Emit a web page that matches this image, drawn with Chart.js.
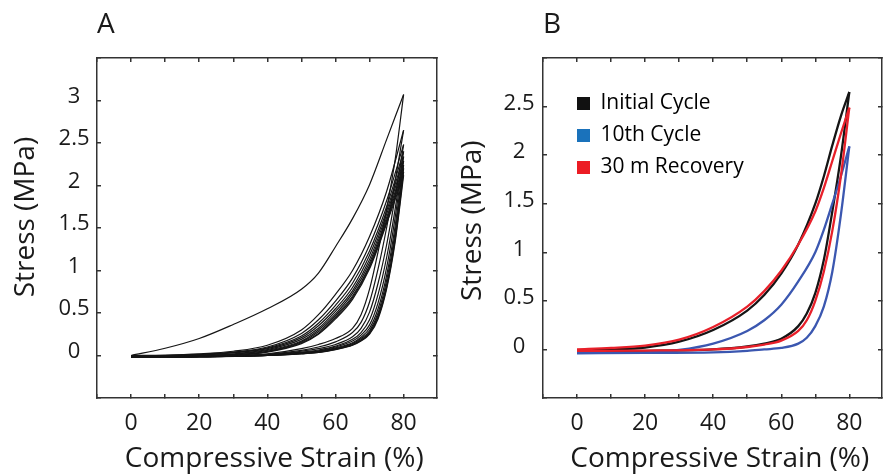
<!DOCTYPE html>
<html lang="en">
<head>
<meta charset="UTF-8">
<title>Compressive stress-strain cycles</title>
<style>
  body { margin: 0; background: #fff; }
  #wrap { position: relative; width: 883px; height: 476px; }
  canvas { position: absolute; top: 0; }
  #chartA { left: 0; }
  #chartB { left: 440px; }
</style>
</head>
<body>
<div id="wrap">
  <canvas id="chartA" width="440" height="476"></canvas>
  <canvas id="chartB" width="443" height="476"></canvas>
</div>
<script src="https://cdn.jsdelivr.net/npm/chart.js"></script>
<script>
// ---- data ----
const xTickLabels = [0, 20, 40, 60, 80];
const yTickLabelsA = [0, 0.5, 1, 1.5, 2, 2.5, 3];
const yTickLabelsB = [0, 0.5, 1, 1.5, 2, 2.5];

// panel A: 10 cycles, loading and unloading branches
const strainLoadA = [0, 10, 20, 30, 40, 50, 55, 60, 65, 70, 75, 80];
const loadA = [
  [0, 0.085, 0.2, 0.365, 0.55, 0.78, 0.97, 1.28, 1.61, 2.01, 2.54, 3.07],
  [0, 0.005, 0.02, 0.05, 0.12, 0.30, 0.48, 0.72, 1.00, 1.40, 1.93, 2.65],
  [0, 0, 0.015, 0.04, 0.10, 0.26, 0.42, 0.64, 0.91, 1.30, 1.82, 2.48],
  [-0.005, 0, 0.01, 0.035, 0.09, 0.23, 0.38, 0.59, 0.85, 1.23, 1.75, 2.40],
  [-0.005, -0.005, 0.005, 0.03, 0.08, 0.21, 0.35, 0.55, 0.80, 1.18, 1.70, 2.34],
  [-0.01, -0.005, 0, 0.02, 0.07, 0.19, 0.32, 0.52, 0.76, 1.13, 1.66, 2.29],
  [-0.01, -0.01, 0, 0.015, 0.06, 0.17, 0.30, 0.49, 0.73, 1.09, 1.62, 2.24],
  [-0.01, -0.01, -0.005, 0.01, 0.05, 0.16, 0.28, 0.47, 0.70, 1.06, 1.59, 2.20],
  [-0.015, -0.01, -0.005, 0.005, 0.045, 0.15, 0.26, 0.45, 0.68, 1.04, 1.57, 2.16],
  [-0.015, -0.015, -0.01, 0, 0.04, 0.14, 0.25, 0.43, 0.66, 1.02, 1.55, 2.12]
];
const strainUnloadA = [0, 20, 40, 50, 55, 60, 65, 67.5, 70, 72.5, 75, 77.5, 80];
const unloadA = [
  [-0.02, -0.01, 0.02, 0.08, 0.13, 0.20, 0.32, 0.48, 0.78, 1.22, 1.72, 2.30, 3.07],
  [-0.02, -0.012, 0.015, 0.06, 0.10, 0.16, 0.27, 0.39, 0.63, 1.02, 1.50, 2.05, 2.65],
  [-0.02, -0.013, 0.01, 0.05, 0.08, 0.13, 0.22, 0.32, 0.51, 0.85, 1.30, 1.86, 2.48],
  [-0.02, -0.014, 0.008, 0.04, 0.065, 0.11, 0.19, 0.27, 0.42, 0.72, 1.15, 1.72, 2.40],
  [-0.02, -0.014, 0.006, 0.035, 0.055, 0.10, 0.17, 0.24, 0.36, 0.62, 1.03, 1.62, 2.34],
  [-0.02, -0.015, 0.004, 0.03, 0.05, 0.09, 0.15, 0.215, 0.32, 0.55, 0.94, 1.52, 2.29],
  [-0.02, -0.015, 0.002, 0.027, 0.045, 0.082, 0.14, 0.20, 0.29, 0.50, 0.88, 1.45, 2.24],
  [-0.02, -0.015, 0.001, 0.024, 0.04, 0.077, 0.13, 0.185, 0.27, 0.47, 0.83, 1.40, 2.20],
  [-0.02, -0.015, 0, 0.022, 0.037, 0.073, 0.125, 0.177, 0.26, 0.45, 0.80, 1.36, 2.16],
  [-0.02, -0.015, 0, 0.02, 0.035, 0.07, 0.12, 0.17, 0.25, 0.43, 0.78, 1.33, 2.12]
];

// panel B: three selected cycles
const legendNames = ['Initial Cycle', '10th Cycle', '30 m Recovery'];
const strainLoadB = [0, 10, 20, 30, 40, 50, 55, 60, 65, 70, 72.5, 75, 77.5, 80];
const initialLoad  = [-0.01, 0, 0.02, 0.08, 0.20, 0.40, 0.56, 0.78, 1.08, 1.50, 1.78, 2.10, 2.40, 2.65];
const tenthLoad    = [-0.035, -0.035, -0.03, -0.005, 0.06, 0.19, 0.30, 0.46, 0.70, 1.00, 1.23, 1.50, 1.78, 2.09];
const recoveryLoad = [0, 0.015, 0.04, 0.10, 0.23, 0.44, 0.60, 0.81, 1.08, 1.42, 1.66, 1.94, 2.22, 2.49];
const strainUnloadB = [0, 20, 40, 50, 55, 60, 65, 67.5, 70, 72.5, 75, 77.5, 80];
const initialUnload  = [-0.02, -0.015, 0, 0.03, 0.06, 0.11, 0.24, 0.37, 0.58, 0.92, 1.42, 1.98, 2.65];
const tenthUnload    = [-0.04, -0.035, -0.03, -0.015, 0, 0.015, 0.06, 0.12, 0.24, 0.44, 0.80, 1.38, 2.09];
const recoveryUnload = [-0.015, -0.012, 0, 0.025, 0.05, 0.09, 0.19, 0.30, 0.50, 0.80, 1.22, 1.78, 2.49];

// ---- styling ----
const axisColor = '#333333';
const lineBlack = '#151515';
const lineBlue = '#3b57b0';
const lineRed = '#e8202a';
const legendColors = ['#111111', '#1a72bb', '#ec1c24'];

Chart.defaults.font.family = "'Open Sans', sans-serif";
Chart.defaults.color = '#1a1a1a';

function curve(xs, ys, color, width) {
  return {
    data: xs.map((x, i) => ({ x: x, y: ys[i] })),
    borderColor: color,
    borderWidth: width,
    pointRadius: 0,
    fill: false,
    cubicInterpolationMode: 'monotone'
  };
}

// frame with inward ticks on all four sides
function frameScales(o) {
  const grid = { drawOnChartArea: false, drawTicks: true, tickLength: -4, color: axisColor, lineWidth: 1.5 };
  const border = { display: true, color: axisColor, width: 1.5 };
  return {
    x: {
      type: 'linear', position: 'bottom', min: o.xMin, max: o.xMax,
      grid: grid, border: border,
      ticks: {
        stepSize: 10, includeBounds: false, autoSkip: false, maxRotation: 0,
        padding: 16, font: { size: 23 },
        callback: v => xTickLabels.includes(v) ? String(v) : ''
      },
      title: { display: true, text: '  Compressive Strain (%)', font: { size: 28 }, padding: { top: 0, bottom: 0 } },
      afterFit: s => { s.height = 78; }
    },
    x2: {
      type: 'linear', position: 'top', min: o.xMin, max: o.xMax,
      grid: grid, border: border,
      ticks: { display: false, stepSize: 10, includeBounds: false, autoSkip: false },
      title: { display: true, text: o.panel, align: 'start', font: { size: 28 }, padding: { top: 8, bottom: 0 } },
      afterFit: s => { s.height = 58; }
    },
    y: {
      type: 'linear', position: 'left', min: o.yMin, max: o.yMax,
      grid: grid, border: border,
      ticks: {
        stepSize: 0.5, includeBounds: false, autoSkip: false, crossAlign: 'center',
        padding: o.yPad, labelOffset: o.yOff, font: { size: 22 },
        callback: v => o.yLabels.includes(v) ? String(v) : ''
      },
      title: { display: true, text: o.yTitle, font: { size: 28 }, padding: { top: o.yTitlePad, bottom: 0 } },
      afterFit: s => { s.width = o.leftW; }
    },
    y2: {
      type: 'linear', position: 'right', min: o.yMin, max: o.yMax,
      grid: grid, border: border,
      ticks: { display: false, stepSize: 0.5, includeBounds: false, autoSkip: false },
      afterFit: s => { s.width = o.rightW; }
    }
  };
}

// put the chartArea legend where the figure has it
const legendShift = {
  id: 'legendShift',
  afterLayout(chart, args, opts) {
    const lg = chart.legend;
    if (!lg || opts.dx === undefined) return;
    const ca = chart.chartArea;
    lg.left = ca.left + opts.dx;
    lg.top = ca.top + opts.dy;
    lg.right = ca.right;
    lg.bottom = ca.bottom;
  }
};

const baseOptions = {
  responsive: false,
  animation: false,
  events: [],
  layout: { padding: 0 }
};

// ---- panel A ----
const datasetsA = [];
loadA.forEach(row => datasetsA.push(curve(strainLoadA, row, lineBlack, 1.2)));
unloadA.forEach(row => datasetsA.push(curve(strainUnloadA, row, lineBlack, 1.2)));

// x max a hair under 90 so no tick sits on the right edge (keeps the plot width)
new Chart(document.getElementById('chartA'), {
  type: 'line',
  data: { datasets: datasetsA },
  options: Object.assign({}, baseOptions, {
    plugins: { legend: { display: false }, tooltip: { enabled: false } },
    scales: frameScales({
      panel: 'A', xMin: -10, xMax: 89.8, yMin: -0.5, yMax: 3.5,
      yLabels: yTickLabelsA, yPad: 11.5, yOff: -4,
      yTitle: '   Stress (MPa)', yTitlePad: 9, leftW: 97, rightW: 3
    })
  })
});

// ---- panel B ----
// red listed first so it is drawn on top, black last
const datasetsB = [
  curve(strainLoadB, recoveryLoad, lineRed, 2.3),
  curve(strainUnloadB, recoveryUnload, lineRed, 2.3),
  curve(strainLoadB, tenthLoad, lineBlue, 2.3),
  curve(strainUnloadB, tenthUnload, lineBlue, 2.3),
  curve(strainLoadB, initialLoad, lineBlack, 2.3),
  curve(strainUnloadB, initialUnload, lineBlack, 2.3)
];

new Chart(document.getElementById('chartB'), {
  type: 'line',
  data: { datasets: datasetsB },
  plugins: [legendShift],
  options: Object.assign({}, baseOptions, {
    plugins: {
      tooltip: { enabled: false },
      legend: {
        display: true, position: 'chartArea', align: 'start',
        labels: {
          boxWidth: 13, boxHeight: 13, padding: 11, font: { size: 21 }, color: '#1a1a1a',
          generateLabels: () => legendNames.map((name, i) => ({
            text: name, fillStyle: legendColors[i], strokeStyle: legendColors[i],
            lineWidth: 0, hidden: false, datasetIndex: i
          }))
        }
      },
      legendShift: { dx: 23, dy: 24 }
    },
    scales: frameScales({
      panel: 'B', xMin: -10, xMax: 89.6, yMin: -0.5, yMax: 3.0,
      yLabels: yTickLabelsB, yPad: 12.5, yOff: -3,
      yTitle: '  Stress (MPa)', yTitlePad: 16, leftW: 103, rightW: 1
    })
  })
});
</script>
</body>
</html>
